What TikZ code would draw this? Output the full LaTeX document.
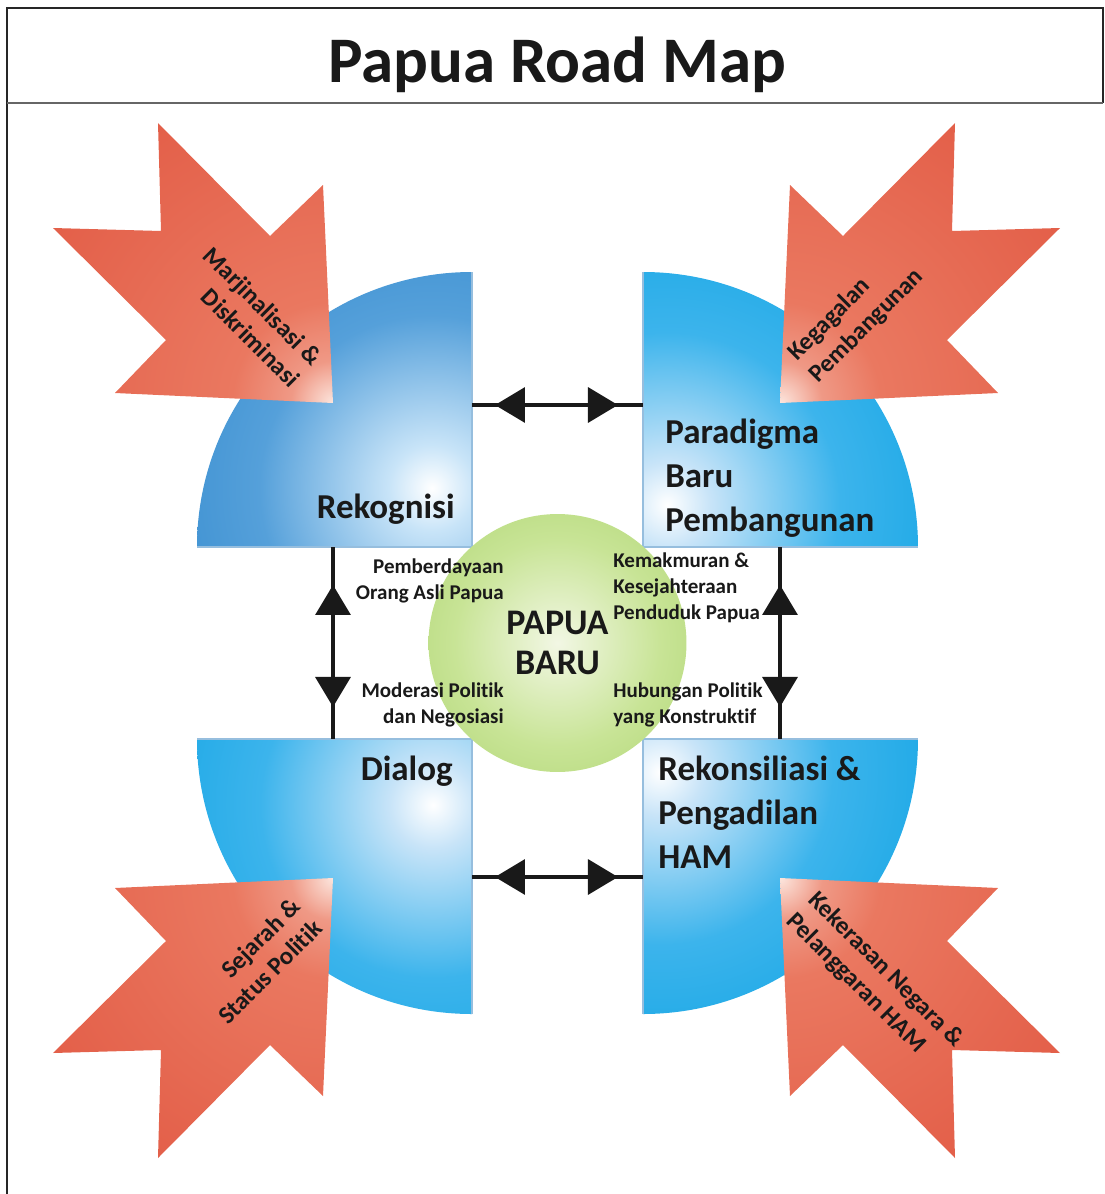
\documentclass[tikz,border=0pt]{standalone}
\usepackage{fontspec}
\setmainfont{Carlito}[Ligatures={NoCommon,NoRare}]
\usetikzlibrary{arrows.meta,decorations.markings}
\definecolor{qdarkA}{RGB}{35,128,200}
\definecolor{qmidA}{RGB}{85,160,218}
\definecolor{qdarkB}{RGB}{0,158,224}
\definecolor{qmidB}{RGB}{60,180,236}
\definecolor{qlight}{RGB}{200,228,248}
\definecolor{rwhite}{RGB}{252,230,222}
\definecolor{rsalmon}{RGB}{234,120,96}
\definecolor{rred}{RGB}{219,66,46}
\definecolor{gc}{RGB}{242,247,228}
\definecolor{gm}{RGB}{200,228,150}
\definecolor{ge}{RGB}{155,202,88}
\definecolor{txt}{RGB}{25,25,25}
\definecolor{qedge}{RGB}{150,190,222}
\pgfdeclareradialshading{qblueA}{\pgfpoint{0bp}{0bp}}{color(0bp)=(white); color(4bp)=(qlight); color(16bp)=(qmidA); color(36bp)=(qdarkA); color(50bp)=(qdarkA)}
\pgfdeclareradialshading{qblueB}{\pgfpoint{0bp}{0bp}}{color(0bp)=(white); color(4bp)=(qlight); color(16bp)=(qmidB); color(36bp)=(qdarkB); color(50bp)=(qdarkB)}
\pgfdeclareradialshading{redsh}{\pgfpoint{0bp}{0bp}}{color(0bp)=(rwhite); color(2.5bp)=(rsalmon!70!rwhite); color(6bp)=(rsalmon); color(36bp)=(rred); color(50bp)=(rred)}
\pgfdeclareradialshading{greensh}{\pgfpoint{0bp}{0bp}}{color(0bp)=(gc); color(20bp)=(gm); color(50bp)=(ge)}
% quarter disk: corner x, corner y, sx, sy, highlight x, highlight y, shading
\newcommand\qdisk[7]{%
  \begin{scope}
    \clip (#1,#2) rectangle ++({#3*275},{#4*275});
    \clip (#1,#2) circle[radius=275];
    \shade[shading=#7] (#5,#6) circle[radius=270];
  \end{scope}
  \draw[qedge, line width=0.6pt] (#1,{#2+#4*275}) -- (#1,#2) -- ({#1+#3*275},#2);
}
% red arrow: tip x, tip y, sx, sy
\newcommand\redarrow[4]{%
  \begin{scope}[shift={(#1,#2)}, xscale=#3, yscale=#4]
    \clip (0,0) -- (-10,-218) -- (-63,-167) -- (-175,-280) -- (-172,-172)
      -- (-280,-175) -- (-167,-63) -- (-218,-10) -- cycle;
    \shade[shading=redsh] (0,0) circle[radius=420];
  \end{scope}
}
\begin{document}
\begin{tikzpicture}[x=0.02cm, y=-0.02cm,
  boxlabel/.style={font=\fontsize{19.9}{25}\selectfont\bfseries, inner sep=0pt, text=txt},
  clabel/.style={font=\fontsize{11.95}{14.8}\selectfont\bfseries, inner sep=0pt, text=txt},
  atext/.style={font=\fontsize{14.2}{17.5}\selectfont\bfseries, inner sep=0pt, text=txt},
  conn/.style={line width=1.9pt, draw=txt, postaction={decorate}}]
\useasboundingbox (0,0) rectangle (1105,1194);
% frame
\draw[line width=1.6pt, black!85] (7,1194) -- (7,8) -- (1103,8) -- (1103,103);
\draw[line width=1.2pt, black!60] (7,103) -- (1103,103);
\node[font=\fontsize{37}{44}\selectfont\bfseries, anchor=base, text=txt, inner sep=0pt] (title) at (557,82) {Papua Road Map};
% quarter disks
\qdisk{472}{547}{-1}{-1}{432}{488}{qblueA}
\qdisk{643}{547}{1}{-1}{667}{505}{qblueB}
\qdisk{472}{739}{-1}{1}{433}{805}{qblueB}
\qdisk{643}{739}{1}{1}{660}{772}{qblueB}
% red arrows
\redarrow{333}{403}{1}{1}
\redarrow{780}{403}{-1}{1}
\redarrow{333}{878}{1}{-1}
\redarrow{780}{878}{-1}{-1}
\node[atext, rotate=-45, anchor=east, align=right] (tTL) at (307,372) {Marjinalisasi \&\\Diskriminasi};
\node[atext, rotate=45, anchor=west, align=left] (tTR) at (803,368) {Kegagalan\\Pembangunan};
\node[atext, rotate=45, anchor=east, align=right] (tBL) at (307,913) {Sejarah \&\\Status Politik};
\node[atext, rotate=-45, anchor=west, align=left] (tBR) at (801,907) {Kekerasan Negara \&\\Pelanggaran HAM};
% connector endpoints
\coordinate (TLr) at (472,405);
\coordinate (TRl) at (643,405);
\coordinate (BLr) at (472,877);
\coordinate (BRl) at (643,877);
\coordinate (TLb) at (333,547);
\coordinate (BLt) at (333,739);
\coordinate (TRb) at (780,547);
\coordinate (BRt) at (780,739);
\draw[conn, decoration={markings,
   mark=at position 0.46cm with {\arrowreversed{Triangle[length=0.6cm, width=0.7cm]}},
   mark=at position 2.92cm with {\arrow{Triangle[length=0.6cm, width=0.7cm]}}}] (TLr) -- (TRl);
\draw[conn, decoration={markings,
   mark=at position 0.46cm with {\arrowreversed{Triangle[length=0.6cm, width=0.7cm]}},
   mark=at position 2.92cm with {\arrow{Triangle[length=0.6cm, width=0.7cm]}}}] (BLr) -- (BRl);
\draw[conn, decoration={markings,
   mark=at position 0.76cm with {\arrowreversed{Triangle[length=0.6cm, width=0.7cm]}},
   mark=at position 3.2cm with {\arrow{Triangle[length=0.6cm, width=0.7cm]}}}] (TLb) -- (BLt);
\draw[conn, decoration={markings,
   mark=at position 0.76cm with {\arrowreversed{Triangle[length=0.6cm, width=0.7cm]}},
   mark=at position 3.2cm with {\arrow{Triangle[length=0.6cm, width=0.7cm]}}}] (TRb) -- (BRt);
% centre circle
\node[circle, minimum size=5.16cm, inner sep=0pt, shading=greensh, align=center,
      font=\fontsize{20.5}{22.5}\selectfont\bfseries, text=txt] (pb) at (557.5,643) {PAPUA\\BARU};
% quarter labels
\node[boxlabel, anchor=base east] (rek) at (455,518) {Rekognisi};
\node[boxlabel, anchor=north west, align=left] (par) at (665,419) {Paradigma\\Baru\\Pembangunan};
\node[boxlabel, anchor=base east] (dia) at (453,780) {Dialog};
\node[boxlabel, anchor=north west, align=left] (rkn) at (658,756) {Rekonsiliasi \&\\Pengadilan\\HAM};
% inner labels
\node[clabel, anchor=north east, align=right] (pem) at (504,558) {Pemberdayaan\\Orang Asli Papua};
\node[clabel, anchor=north east, align=right] (mod) at (504,682) {Moderasi Politik\\dan Negosiasi};
\node[clabel, anchor=north west, align=left] (kem) at (613,552) {Kemakmuran \&\\Kesejahteraan\\Penduduk Papua};
\node[clabel, anchor=north west, align=left] (hub) at (613,682) {Hubungan Politik\\yang Konstruktif};
\end{tikzpicture}
\end{document}
